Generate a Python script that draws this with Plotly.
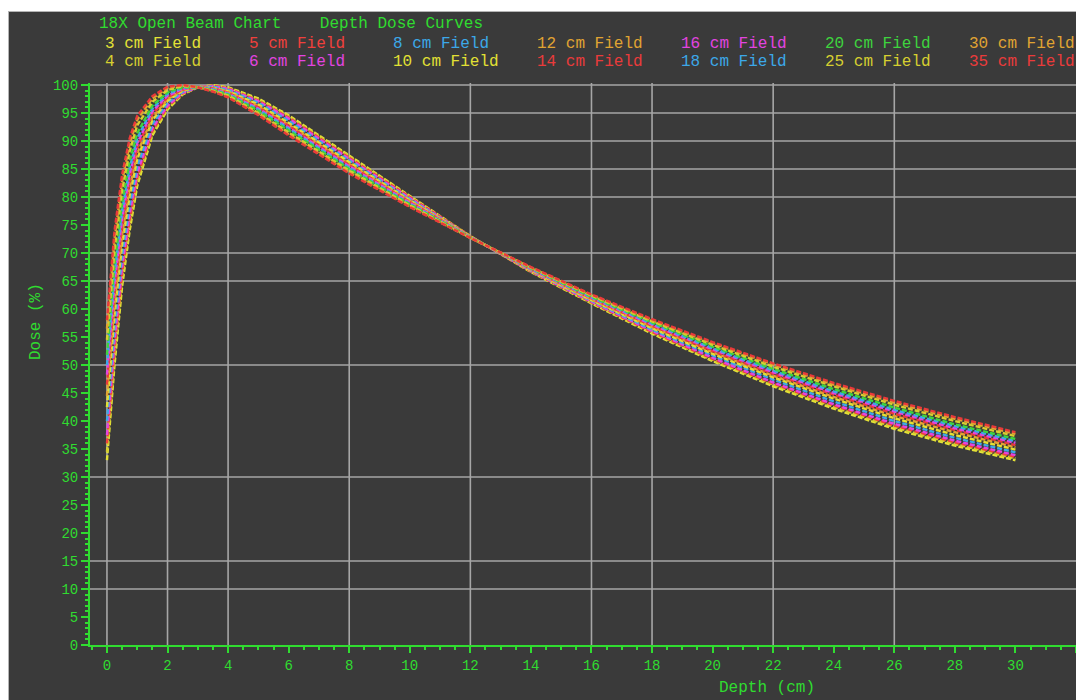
import plotly.graph_objects as go

# Depth (cm) at which each percent depth dose value is tabulated
DEPTH_CM = [0, 0.25, 0.5, 0.75, 1, 1.5, 2, 2.5, 3, 3.5, 4, 5, 6, 8, 10,
            12, 14, 16, 18, 20, 22, 24, 26, 28, 30]

# Percent depth dose per square field size
PDD_3 = [33.0, 50.0, 64.0, 74.0, 82.0, 91.0, 95.6, 98.3, 99.6, 100.0, 99.6, 97.6, 94.6,
         87.4, 80.2, 73.0, 66.6, 61.0, 55.6, 50.7, 46.2, 42.2, 38.6, 35.6, 33.0]
PDD_4 = [34.5, 51.4, 65.2, 75.0, 82.8, 91.4, 95.8, 98.4, 99.6, 99.9, 99.5, 97.4, 94.4,
         87.2, 80.1, 73.0, 66.7, 61.1, 55.8, 50.9, 46.5, 42.5, 38.9, 35.9, 33.3]
PDD_5 = [36.0, 52.9, 66.4, 76.0, 83.5, 91.8, 96.1, 98.5, 99.6, 99.9, 99.4, 97.2, 94.2,
         87.0, 80.0, 73.0, 66.7, 61.2, 55.9, 51.1, 46.7, 42.8, 39.2, 36.2, 33.6]
PDD_6 = [37.5, 54.3, 67.6, 77.0, 84.3, 92.3, 96.3, 98.6, 99.6, 99.8, 99.3, 97.1, 94.0,
         86.8, 79.8, 72.9, 66.8, 61.3, 56.1, 51.3, 46.9, 43.0, 39.5, 36.5, 33.9]
PDD_8 = [40.0, 56.7, 69.6, 78.6, 85.5, 93.0, 96.8, 98.8, 99.6, 99.7, 99.1, 96.8, 93.6,
         86.5, 79.6, 72.9, 66.9, 61.5, 56.3, 51.7, 47.4, 43.5, 40.0, 37.0, 34.4]
PDD_10 = [42.5, 59.1, 71.6, 80.3, 86.8, 93.7, 97.2, 99.0, 99.6, 99.5, 98.9, 96.5, 93.2,
          86.2, 79.4, 72.9, 66.9, 61.6, 56.6, 52.0, 47.8, 44.0, 40.5, 37.5, 34.9]
PDD_12 = [44.5, 61.0, 73.2, 81.6, 87.8, 94.2, 97.5, 99.1, 99.6, 99.4, 98.8, 96.2, 92.9,
          85.9, 79.3, 72.9, 67.0, 61.7, 56.8, 52.3, 48.1, 44.3, 40.9, 38.0, 35.3]
PDD_14 = [46.5, 63.0, 74.8, 82.9, 88.8, 94.8, 97.8, 99.2, 99.6, 99.4, 98.6, 96.0, 92.7,
          85.7, 79.1, 72.8, 67.1, 61.9, 57.0, 52.5, 48.4, 44.7, 41.3, 38.4, 35.7]
PDD_16 = [48.3, 64.6, 76.2, 84.1, 89.6, 95.3, 98.1, 99.3, 99.6, 99.3, 98.5, 95.8, 92.4,
          85.5, 79.0, 72.8, 67.1, 62.0, 57.2, 52.8, 48.7, 45.0, 41.7, 38.7, 36.1]
PDD_18 = [50.0, 66.3, 77.6, 85.2, 90.5, 95.8, 98.4, 99.5, 99.6, 99.2, 98.4, 95.6, 92.2,
          85.2, 78.8, 72.8, 67.2, 62.1, 57.4, 53.0, 49.0, 45.3, 42.0, 39.1, 36.4]
PDD_20 = [51.8, 68.0, 79.0, 86.4, 91.4, 96.3, 98.7, 99.6, 99.6, 99.1, 98.3, 95.4, 91.9,
          85.0, 78.7, 72.8, 67.3, 62.2, 57.6, 53.3, 49.3, 45.7, 42.4, 39.4, 36.8]
PDD_25 = [54.5, 70.6, 81.2, 88.2, 92.8, 97.0, 99.1, 99.8, 99.6, 99.0, 98.1, 95.0, 91.5,
          84.7, 78.5, 72.7, 67.4, 62.4, 57.8, 53.6, 49.7, 46.2, 42.9, 40.0, 37.3]
PDD_30 = [56.5, 72.6, 82.8, 89.5, 93.8, 97.6, 99.5, 99.9, 99.6, 98.9, 97.9, 94.8, 91.2,
          84.4, 78.3, 72.7, 67.4, 62.5, 58.0, 53.9, 50.1, 46.5, 43.3, 40.4, 37.7]
PDD_35 = [58.0, 74.0, 84.0, 90.5, 94.5, 98.0, 99.7, 100.0, 99.6, 98.8, 97.8, 94.6, 91.0,
          84.2, 78.2, 72.7, 67.5, 62.6, 58.2, 54.1, 50.3, 46.8, 43.6, 40.7, 38.0]

FIELD_LABELS = ["3 cm Field", "4 cm Field", "5 cm Field", "6 cm Field", "8 cm Field",
                "10 cm Field", "12 cm Field", "14 cm Field", "16 cm Field", "18 cm Field",
                "20 cm Field", "25 cm Field", "30 cm Field", "35 cm Field"]
FIELD_PDD = [PDD_3, PDD_4, PDD_5, PDD_6, PDD_8, PDD_10, PDD_12, PDD_14, PDD_16,
             PDD_18, PDD_20, PDD_25, PDD_30, PDD_35]
FIELD_COLORS = ["#e4e236", "#d6cf30", "#f0403c", "#e244e0", "#3ca8e8", "#e2e034",
                "#e0a432", "#ea3a3a", "#e244e0", "#3ca8e8", "#3ed43e", "#d6cf30",
                "#e0a432", "#ea3a3a"]

# Axis ticks and the (irregular) set of grid lines
X_TICKS = list(range(0, 34, 2))
Y_TICKS = list(range(0, 105, 5))
GRID_DEPTHS = [0, 2, 4, 8, 12, 16, 18, 22, 26]
GRID_DOSES = [100, 95, 90, 85, 80, 70, 65, 50, 30, 15, 10]

TITLE = "18X Open Beam Chart    Depth Dose Curves"

BG = "#3a3a3a"
GREEN = "#30dc30"
GRID = "#a6a6a6"
FONT = "Liberation Mono"

W, H = 1076, 700
ML, MR, MT, MB = 90, 0, 83, 55
PW, PH = W - ML - MR, H - MT - MB


def px_x(px):
    return (px - ML) / PW


def px_y(py):
    return (H - MB - py) / PH


fig = go.Figure()
for label, pdd, color in zip(FIELD_LABELS, FIELD_PDD, FIELD_COLORS):
    fig.add_trace(go.Scatter(
        x=DEPTH_CM, y=pdd, mode="lines", name=label, showlegend=False,
        line=dict(color=color, width=2.4, dash="5px,2px"),
    ))

shapes = []
for d in GRID_DEPTHS:
    shapes.append(dict(type="line", xref="x", yref="paper", x0=d, x1=d, y0=0, y1=1,
                       line=dict(color=GRID, width=1.6), layer="below"))
for v in GRID_DOSES:
    shapes.append(dict(type="line", xref="paper", yref="y", x0=0, x1=1, y0=v, y1=v,
                       line=dict(color=GRID, width=1.6), layer="below"))
# white page border along the top and left edges
shapes.append(dict(type="rect", xref="paper", yref="paper",
                   x0=px_x(0), x1=px_x(W), y0=px_y(11), y1=px_y(0),
                   fillcolor="white", line=dict(width=0), layer="above"))
shapes.append(dict(type="rect", xref="paper", yref="paper",
                   x0=px_x(0), x1=px_x(8), y0=px_y(H), y1=px_y(0),
                   fillcolor="white", line=dict(width=0), layer="above"))
shapes.append(dict(type="line", xref="paper", yref="paper",
                   x0=px_x(8), x1=px_x(W), y0=px_y(11.5), y1=px_y(11.5),
                   line=dict(color="#b4b4b4", width=1), layer="above"))
shapes.append(dict(type="line", xref="paper", yref="paper",
                   x0=px_x(8.5), x1=px_x(8.5), y0=px_y(H), y1=px_y(11.5),
                   line=dict(color="#b4b4b4", width=1), layer="above"))

annotations = [
    dict(text=TITLE, x=px_x(97), y=px_y(24), xref="paper", yref="paper",
         xanchor="left", yanchor="middle", showarrow=False,
         font=dict(family=FONT, size=16, color=GREEN)),
    dict(text="Dose (%)", x=px_x(36), y=px_y(322), xref="paper", yref="paper",
         xanchor="center", yanchor="middle", textangle=-90, showarrow=False,
         font=dict(family=FONT, size=16, color=GREEN)),
    dict(text="Depth (cm)", x=px_x(767), y=px_y(699), xref="paper", yref="paper",
         xanchor="center", yanchor="bottom", showarrow=False,
         font=dict(family=FONT, size=16, color=GREEN)),
]
for i, (label, color) in enumerate(zip(FIELD_LABELS, FIELD_COLORS)):
    col, row = divmod(i, 2)
    annotations.append(dict(
        text=label, x=px_x(103 + 144 * col), y=px_y(44 + 18 * row),
        xref="paper", yref="paper", xanchor="left", yanchor="middle",
        showarrow=False, font=dict(family=FONT, size=16, color=color)))

fig.update_layout(
    width=W, height=H, autosize=False,
    margin=dict(l=ML, r=MR, t=MT, b=MB, pad=0),
    paper_bgcolor=BG, plot_bgcolor=BG,
    shapes=shapes, annotations=annotations,
    showlegend=False,
)
fig.update_xaxes(
    range=[-0.56, 32.0], tickmode="array", tickvals=X_TICKS,
    showgrid=False, zeroline=False,
    showline=True, linecolor=GREEN, linewidth=2,
    ticks="outside", ticklen=6, tickwidth=2, tickcolor=GREEN,
    tickfont=dict(family=FONT, size=14, color=GREEN),
    minor=dict(dtick=0.5, ticks="outside", ticklen=3, tickwidth=1.5, tickcolor=GREEN),
)
fig.update_yaxes(
    range=[0, 100.36], tickmode="array", tickvals=Y_TICKS,
    showgrid=False, zeroline=False,
    showline=True, linecolor=GREEN, linewidth=2,
    ticks="outside", ticklen=7, tickwidth=2, tickcolor=GREEN,
    tickfont=dict(family=FONT, size=14, color=GREEN),
    minor=dict(dtick=1, ticks="outside", ticklen=3, tickwidth=1.5, tickcolor=GREEN),
)

fig.write_html("out.html")
